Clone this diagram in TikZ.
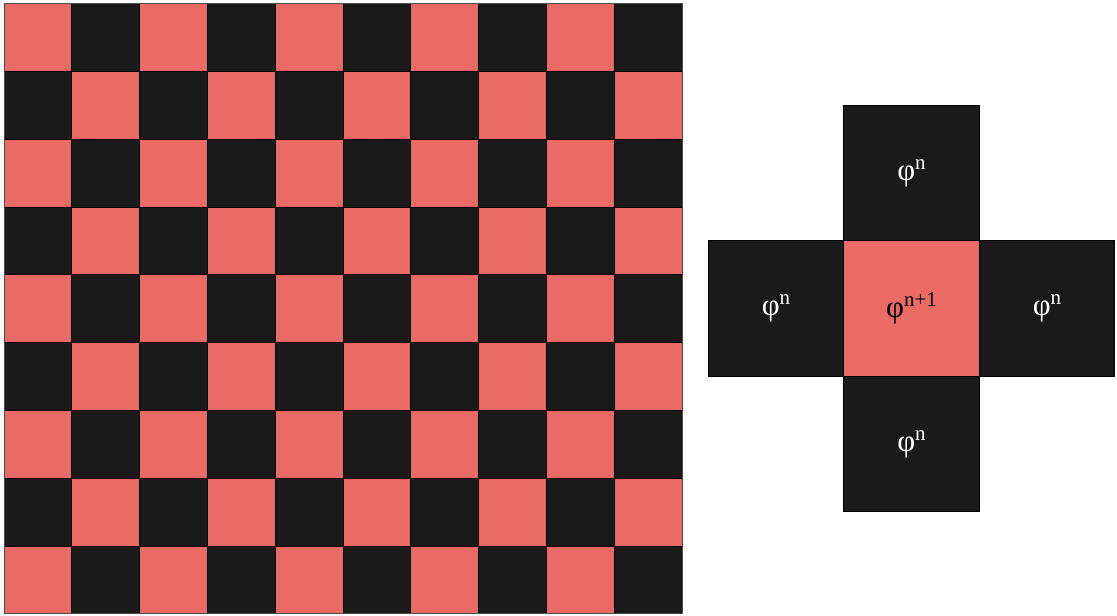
\documentclass[tikz,border=0pt]{standalone}
\usepackage{fontspec}
\setmainfont{Liberation Serif}
\definecolor{cellred}{HTML}{EA6B66}
\definecolor{celldark}{HTML}{1A1A1A}
\newcommand{\phisup}[1]{φ\raisebox{11pt}{\fontsize{21}{21}\selectfont #1}}
\begin{document}
\begin{tikzpicture}[x=1pt,y=-1pt,
  cell/.style={draw=black, line width=0.8pt, minimum size=67.8pt, inner sep=0pt, outer sep=0pt},
  redcell/.style={cell, fill=cellred},
  darkcell/.style={cell, fill=celldark},
  bigcell/.style={draw=black, line width=0.8pt, minimum size=135.5pt, inner sep=0pt, outer sep=0pt, font=\fontsize{31}{34}\selectfont},
  bigdark/.style={bigcell, fill=celldark, text=white},
  bigred/.style={bigcell, fill=cellred, text=black}]
\useasboundingbox (0,0) rectangle (1117,616);
\foreach \r in {0,...,8} {
  \foreach \c in {0,...,9} {
    \pgfmathtruncatemacro\pp{mod(\r+\c,2)}
    \ifnum\pp=0 \def\st{redcell}\else\def\st{darkcell}\fi
    \node[\st] (b-\r-\c) at ({4+67.8*(\c+0.5)}, {3.5+67.8*(\r+0.5)}) {};
  }
}
\draw[draw=black!70, line width=0.8pt] (b-0-0.north west) rectangle (b-8-9.south east);
\node[bigdark] (top) at (911.5,173) {\phisup{n}};
\node[bigdark] (left) at (776,308.5) {\phisup{n}};
\node[bigdark] (right) at (1047,308.5) {\phisup{n}};
\node[bigdark] (bottom) at (911.5,444) {\phisup{n}};
\node[bigred] (center) at (911.5,308.5) {\phisup{n+1}};
\end{tikzpicture}
\end{document}
